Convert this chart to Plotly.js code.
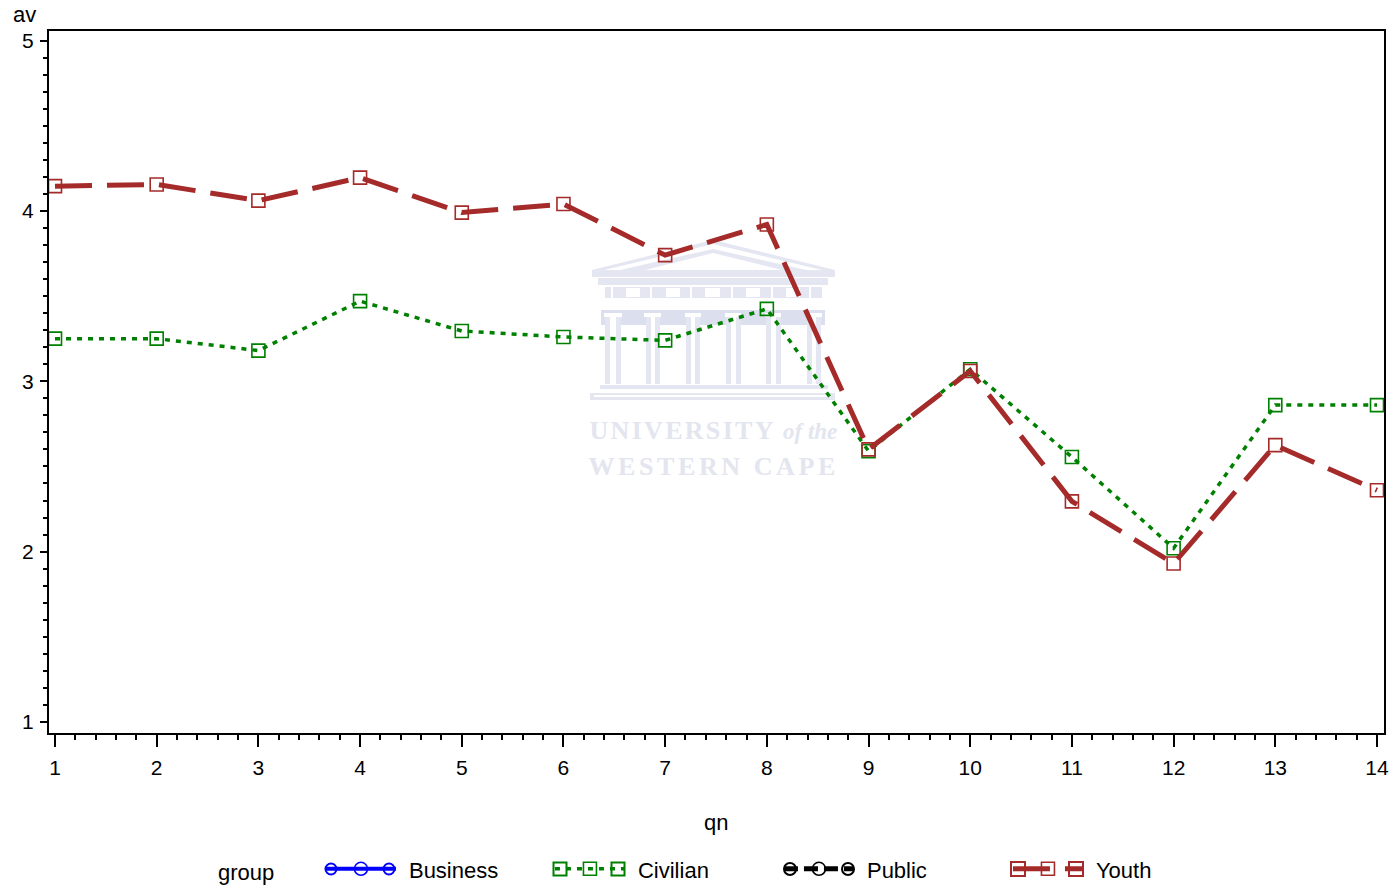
<!DOCTYPE html>
<html>
<head>
<meta charset="utf-8">
<script src="https://cdn.plot.ly/plotly-3.0.1.min.js"></script>
<style>
html,body{margin:0;padding:0;background:#fff;}
#chart{width:1393px;height:888px;}
.annotation[data-index="2"] text{letter-spacing:2.3px;}
.annotation[data-index="4"] text{letter-spacing:3.6px;}
.legendtext{transform:translate(8px,1px);}
.legendtitletext{transform:translate(-2px,3px);}
</style>
</head>
<body>
<div id="chart"></div>
<script>
const qn = [1,2,3,4,5,6,7,8,9,10,11,12,13,14];
const civilian = [3.25,3.25,3.18,3.47,3.295,3.26,3.24,3.425,2.59,3.07,2.555,2.02,2.86,2.86];
const youth = [4.145,4.155,4.06,4.195,3.99,4.04,3.74,3.92,2.6,3.06,2.295,1.93,2.625,2.36];
const xTicks = [1,2,3,4,5,6,7,8,9,10,11,12,13,14];
const yTicks = [1,2,3,4,5];
const groupNames = ['Business','Civilian','Public','Youth'];
const groupColors = ['#0000ff','#008000','#000000','#a52a2a'];

const L=49,R=1384,T=31,B=733;
const W=R-L,H=B-T;
const px=x=>(x-L)/W, py=y=>(B-y)/H;
const shapes=[];
const wm='#e4e6f1', wmDark='#dcdfed';
function poly(pts,fill){
  shapes.push({type:'path',xref:'paper',yref:'paper',layer:'below',line:{width:0},fillcolor:fill,
    path:'M'+pts.map(p=>px(p[0])+','+py(p[1])).join('L')+'Z'});
}
function box(x0,y0,x1,y1,fill){poly([[x0,y0],[x1,y0],[x1,y1],[x0,y1]],fill);}
// watermark building
poly([[592,270],[713,240],[835,270],[835,277],[592,277]],wm);
poly([[604,270],[713,244],[822,270]],'#ffffff');
poly([[620,270],[713,249],[806,270]],wm);
poly([[645,270],[713,253],[782,270]],'#ffffff');
box(598,278,828,285,wm);
box(605,287,822,298,wm);
[[626,640],[666,680],[705,720],[746,760],[786,800]].forEach(w=>box(w[0],288,w[1],297,'#ffffff'));
[[611,613],[650,652],[690,692],[731,733],[771,773],[809,811]].forEach(w=>box(w[0],287,w[1],298,'#ffffff'));
box(606,299,822,309,'#ffffff');
box(601,310,825,325,wmDark);
[[604,622],[644,661],[685,701],[725,741],[765,781],[807,822]].forEach(w=>box(w[0],313,w[1],317,'#ffffff'));
[[605,621],[646,660],[686,700],[726,741],[766,781],[807,821]].forEach(c=>{
  box(c[0],317,c[1],384,wm);
  box(c[0]+5,317,c[1]-5,384,'#ffffff');
});
box(600,385,828,389,wm);
box(590,393,835,400,wm);
box(594,395,831,397,'#ffffff');
// legend key side markers
const keyCenters=[360,589,819,1047], keyY=869, keyR=[5.5,6.5,6,7];
keyCenters.forEach((c,i)=>{
  [-29,29].forEach(d=>{
    const r=keyR[i], kind=(i%2===0)?'circle':'rect';
    shapes.push({type:kind,xref:'paper',yref:'paper',layer:'above',line:{color:groupColors[i],width:2},
      x0:px(c+d-r),x1:px(c+d+r),y0:py(keyY+r),y1:py(keyY-r)});
  });
});

const annotations=[
 {text:'av',xref:'paper',yref:'paper',x:px(24),y:py(15),showarrow:false,xanchor:'center',yanchor:'middle',font:{size:22,color:'#000'}},
 {text:'qn',xref:'paper',yref:'paper',x:px(716),y:py(822),showarrow:false,xanchor:'center',yanchor:'middle',font:{size:22,color:'#000'}},
 {text:'UNIVERSITY',xref:'paper',yref:'paper',x:px(682),y:py(430),showarrow:false,xanchor:'center',yanchor:'middle',font:{family:'Liberation Serif',size:26,weight:700,color:'#e3e5ef'}},
 {text:'of the',xref:'paper',yref:'paper',x:px(810),y:py(431),showarrow:false,xanchor:'center',yanchor:'middle',font:{family:'Liberation Serif',size:23,style:'italic',weight:700,color:'#e3e5ef'}},
 {text:'WESTERN CAPE',xref:'paper',yref:'paper',x:px(713),y:py(466),showarrow:false,xanchor:'center',yanchor:'middle',font:{family:'Liberation Serif',size:26,weight:700,color:'#e3e5ef'}}
];

const keyStyle=[{dash:'solid',sym:'circle-open',w:4},{dash:'5px,6px',sym:'square-open',w:3.5},{dash:'14px,6px',sym:'circle-open',w:5},{dash:'22px,8px',sym:'square-open',w:5}];
function tr(name,i,y){
  const s=keyStyle[i];
  return {type:'scatter',mode:'lines+markers',name:name,x:y?qn:[null],y:y||[null],
    line:{color:groupColors[i],width:s.w,dash:i===3?'37px,15px':s.dash},
    marker:{symbol:s.sym,size:13,color:groupColors[i],line:{width:1.6,color:groupColors[i]}},
    cliponaxis:false};
}
const data=[tr(groupNames[0],0,null),tr(groupNames[1],1,civilian),tr(groupNames[2],2,null),tr(groupNames[3],3,youth)];

const layout={
 width:1393,height:888,autosize:false,
 margin:{l:L,r:1393-R,t:T,b:888-B,pad:0},
 paper_bgcolor:'#fff',plot_bgcolor:'#fff',
 font:{family:'Liberation Sans, Arial, sans-serif',color:'#000',size:20},
 hovermode:false,
 xaxis:{range:[1-6/101.69,14+7/101.69],tickmode:'array',tickvals:xTicks,ticktext:xTicks.map(String),
   ticks:'outside',ticklen:12,tickwidth:2,tickcolor:'#000',showline:true,linewidth:2,linecolor:'#000',mirror:true,
   zeroline:false,showgrid:false,ticklabelstandoff:3,tickfont:{size:21},
   minor:{dtick:0.2,tick0:1,ticks:'outside',ticklen:5,tickwidth:2,tickcolor:'#000',showgrid:false}},
 yaxis:{range:[1-11/170.4,5+9.5/170.4],tickmode:'array',tickvals:yTicks,ticktext:yTicks.map(String),
   ticks:'outside',ticklen:7,tickwidth:2,tickcolor:'#000',showline:true,linewidth:2,linecolor:'#000',mirror:true,
   zeroline:false,showgrid:false,ticklabelstandoff:2,tickfont:{size:21},
   minor:{dtick:0.1,tick0:1,ticks:'outside',ticklen:4,tickwidth:2,tickcolor:'#000',showgrid:false}},
 legend:{orientation:'h',xref:'container',yref:'container',x:218/1393,xanchor:'left',y:(888-869)/888,yanchor:'middle',itemwidth:70,
   entrywidth:144,entrywidthmode:'pixels',itemclick:false,itemdoubleclick:false,
   font:{size:22},title:{text:'group      ',side:'left',font:{size:22}},bgcolor:'rgba(0,0,0,0)',traceorder:'normal'},
 shapes:shapes,annotations:annotations
};
Plotly.newPlot('chart',data,layout,{displayModeBar:false,staticPlot:true});
</script>
</body>
</html>
